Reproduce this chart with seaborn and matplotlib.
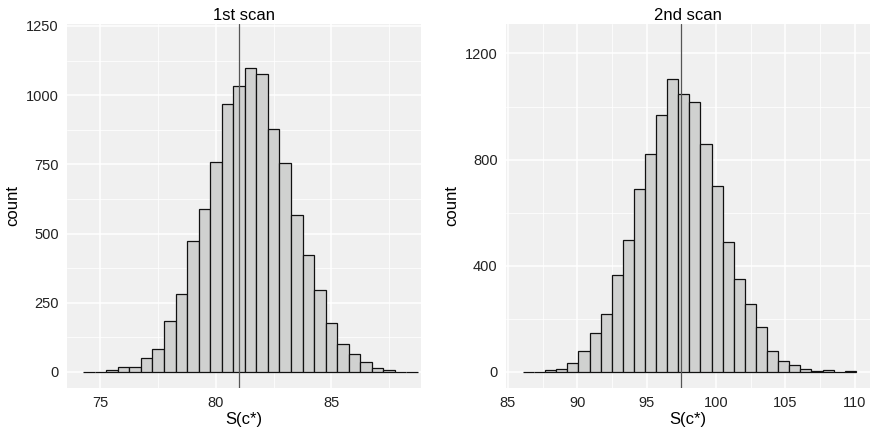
import numpy as np
import pandas as pd
import matplotlib
matplotlib.use("Agg")
import matplotlib.pyplot as plt
import seaborn as sns

# ---- data ----
scan1_start = 74.25
scan1_width = 0.5
scan1_counts = [1, 1, 6, 18, 18, 49, 82, 183, 281, 472, 590, 759, 967, 1034, 1098,
                1076, 879, 755, 568, 423, 297, 178, 101, 64, 35, 14, 7, 1, 1]
scan1_line = 81.02

scan2_start = 86.08
scan2_width = 0.8
scan2_counts = [1, 1, 5, 11, 35, 80, 145, 219, 365, 495, 689, 822, 968, 1104, 1047,
                1018, 860, 700, 489, 349, 254, 168, 80, 41, 24, 9, 4, 5, 1, 2]
scan2_line = 97.46

titles = ["1st scan", "2nd scan"]
xticks1 = [75, 80, 85]
yticks1 = [0, 250, 500, 750, 1000, 1250]
xticks2 = [85, 90, 95, 100, 105, 110]
yticks2 = [0, 400, 800, 1200]

sns.set_theme(style="darkgrid")
plt.rcParams['font.family'] = ['Liberation Sans', 'DejaVu Sans']

fig = plt.figure(figsize=(8.72, 4.32), dpi=100)
ax1 = fig.add_axes([67/872, 44/432, 354/872, 364/432])
ax2 = fig.add_axes([506/872, 44/432, 364/872, 364/432])

panels = [
    (ax1, scan1_start, scan1_width, scan1_counts, scan1_line, xticks1, yticks1,
     (73.55, 88.88), (-58, 1257)),
    (ax2, scan2_start, scan2_width, scan2_counts, scan2_line, xticks2, yticks2,
     (84.86, 111.1), (-61, 1311)),
]

for i, (ax, start, w, counts, vline, xt, yt, xl, yl) in enumerate(panels):
    n = len(counts)
    edges = start + w * np.arange(n + 1)
    centers = (edges[:-1] + edges[1:]) / 2
    df = pd.DataFrame({"x": centers, "count": counts})
    ax.set_facecolor("#F0F0F0")
    sns.histplot(data=df, x="x", weights="count", bins=n,
                 binrange=(float(edges[0]), float(edges[-1])), ax=ax,
                 color="#D0D1D0", edgecolor="#111111", linewidth=0.9, alpha=1.0)
    ax.axvline(vline, color="#555555", linewidth=0.9, zorder=5)
    ax.set_xticks(xt)
    ax.set_yticks(yt)
    ax.set_xticks([t + (xt[1]-xt[0]) / 2 for t in [xt[0] - (xt[1]-xt[0])] + xt], minor=True)
    ax.set_yticks([t + (yt[1]-yt[0]) / 2 for t in yt], minor=True)
    ax.set_xlim(*xl)
    ax.set_ylim(*yl)
    ax.grid(which="major", color="white", linewidth=1.1)
    ax.grid(which="minor", color="white", linewidth=0.55)
    ax.set_axisbelow(True)
    for s in ax.spines.values():
        s.set_visible(False)
    ax.tick_params(axis="both", which="major", length=3, width=0.8, color="#444444",
                   labelsize=10.5, labelcolor="#222222", pad=3)
    ax.tick_params(axis="both", which="minor", length=0)
    ax.set_xlabel("S(c*)", fontsize=12, color="black", labelpad=1)
    ax.set_ylabel("count", fontsize=12, color="black", labelpad=4)
    ax.set_title(titles[i], fontsize=12, color="black", pad=3)

fig.savefig("out.png", dpi=100)
